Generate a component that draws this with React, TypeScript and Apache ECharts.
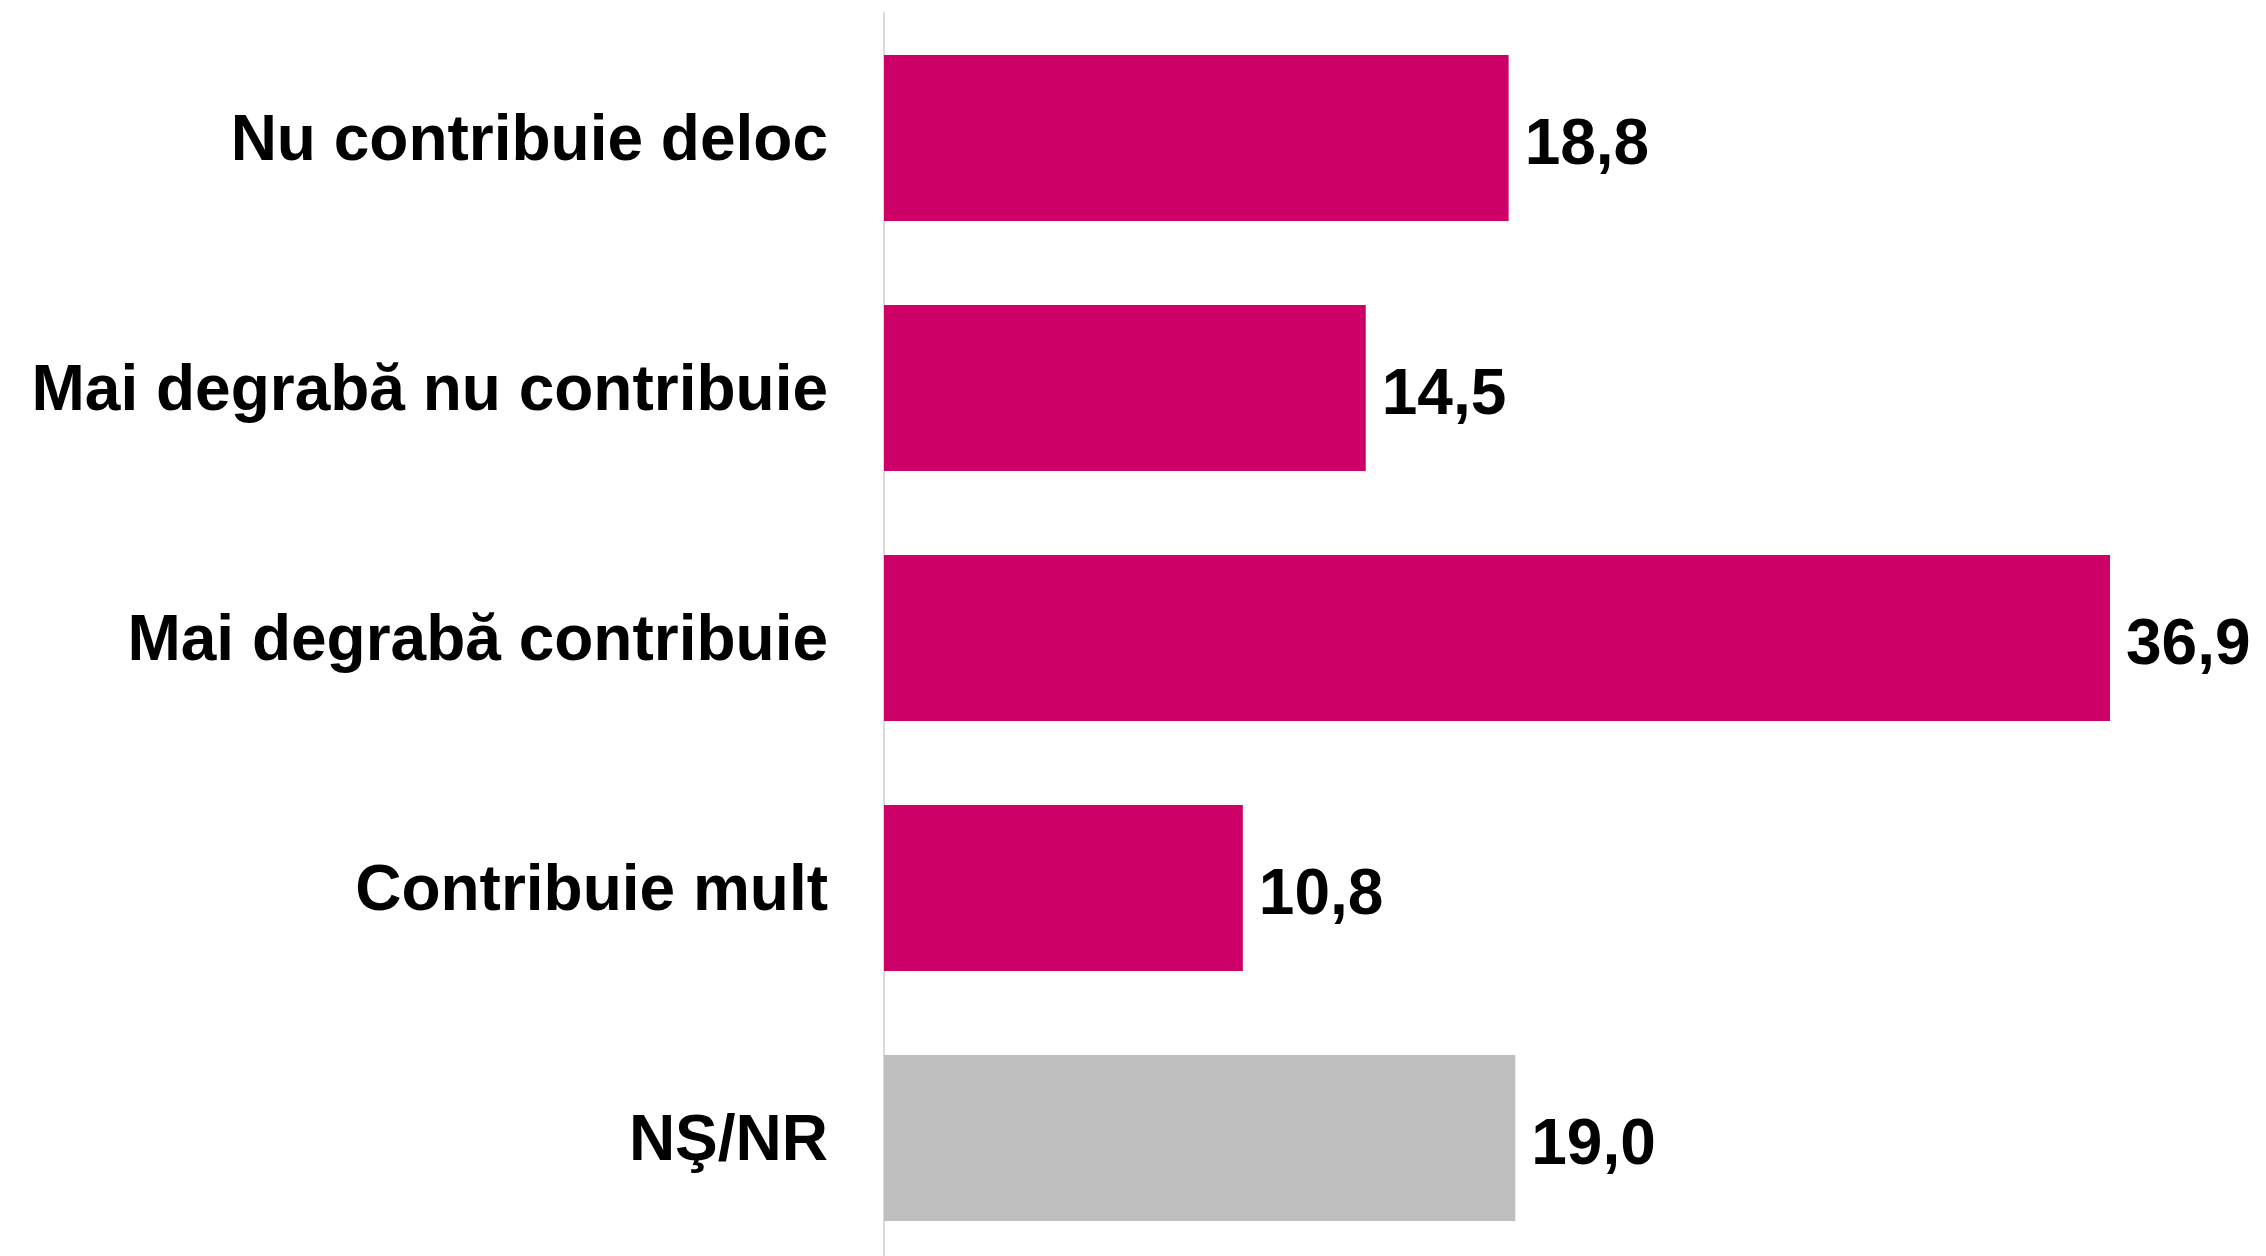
import React, { useEffect, useRef } from "react";
import * as echarts from "echarts";

const categories = [
  "Nu contribuie deloc",
  "Mai degrabă nu contribuie",
  "Mai degrabă contribuie",
  "Contribuie mult",
  "NŞ/NR",
];
const values = [18.8, 14.5, 36.9, 10.8, 19.0];
const barColors = ["#CC0066", "#CC0066", "#CC0066", "#CC0066", "#BFBFBF"];

export default function App() {
  const ref = useRef<HTMLDivElement>(null);
  useEffect(() => {
    if (!ref.current) return;
    const chart = echarts.init(ref.current, null, { renderer: "svg" });
    chart.setOption({
      animation: false,
      backgroundColor: "#ffffff",
      grid: { left: 884, top: 13, width: 1329, height: 1250, containLabel: false },
      xAxis: {
        type: "value",
        min: 0,
        max: 40,
        show: false,
        splitLine: { show: false },
      },
      yAxis: {
        type: "category",
        inverse: true,
        data: categories,
        axisLine: { show: true, lineStyle: { color: "#D9D9D9", width: 2 } },
        axisTick: { show: false },
        axisLabel: {
          margin: 56,
          color: "#000000",
          fontFamily: "Liberation Sans, Arial, sans-serif",
          fontWeight: "bold",
          fontSize: 64,
        },
      },
      series: [
        {
          type: "bar",
          data: values.map((v, i) => ({ value: v, itemStyle: { color: barColors[i] } })),
          barCategoryGap: "33.6%",
          label: {
            show: true,
            position: "right",
            distance: 16,
            color: "#000000",
            fontFamily: "Liberation Sans, Arial, sans-serif",
            fontWeight: "bold",
            fontSize: 64,
            offset: [0, 4],
            formatter: (p: any) => p.value.toFixed(1).replace(".", ","),
          },
        },
      ],
    });
    return () => chart.dispose();
  }, []);
  return (
    <div
      ref={ref}
      style={{ position: "fixed", left: 0, top: 0, width: 2266, height: 1263 }}
    />
  );
}
